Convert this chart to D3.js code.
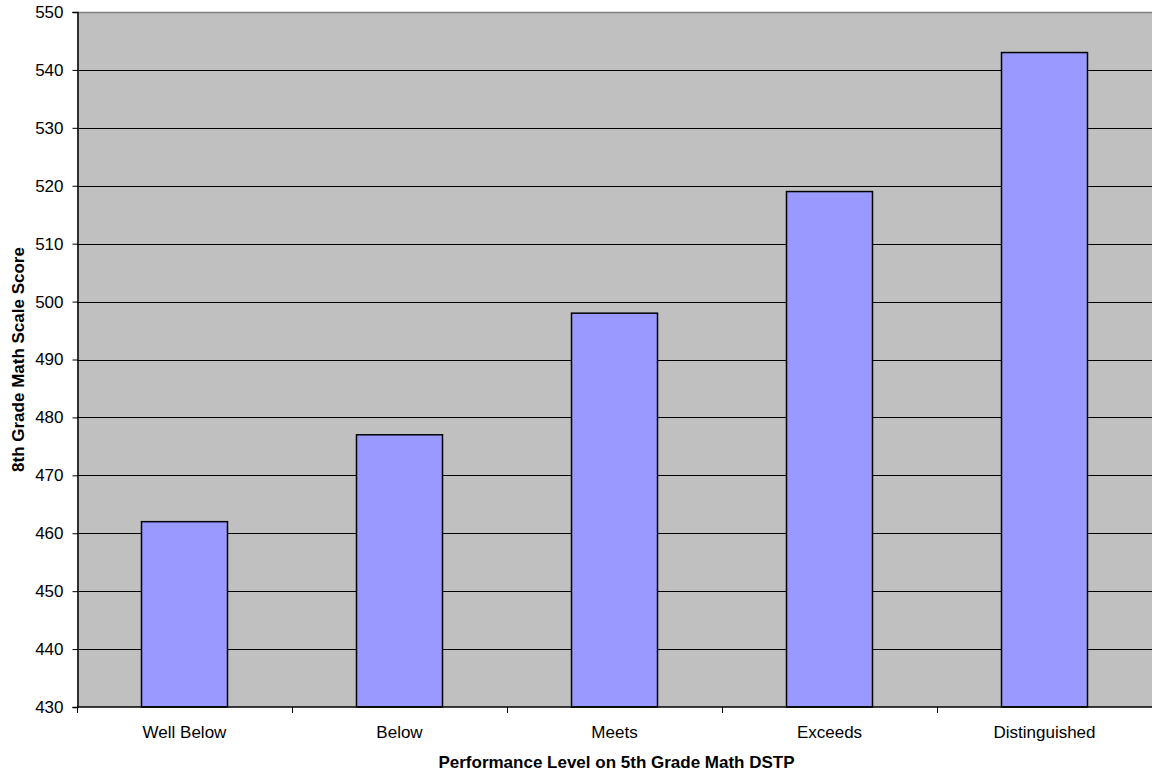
<!DOCTYPE html>
<html><head><meta charset="utf-8">
<script src="https://cdn.jsdelivr.net/npm/d3@7"></script>
<style>body{margin:0;background:#fff;} svg{display:block;}</style>
</head><body>
<svg id="chart" width="1152" height="774"></svg>
<script>
const categories = ["Well Below", "Below", "Meets", "Exceeds", "Distinguished"];
const scores = [462, 477, 498, 519, 543];
const yTicks = [430, 440, 450, 460, 470, 480, 490, 500, 510, 520, 530, 540, 550];
const xTitle = "Performance Level on 5th Grade Math DSTP";
const yTitle = "8th Grade Math Scale Score";

const svg = d3.select("#chart");
const m = {left: 77, right: 0, top: 12, bottom: 67};
const W = 1152, H = 774;
const x = d3.scaleBand().domain(categories).range([m.left, W - m.right]).paddingInner(0.6).paddingOuter(0.3);
const xOuter = d3.scaleBand().domain(categories).range([m.left, W - m.right]);
const y = d3.scaleLinear().domain([430, 550]).range([H - m.bottom, m.top]);
const font = "Liberation Sans, Arial, sans-serif";

svg.append("rect").attr("x", m.left).attr("y", m.top).attr("width", W - m.left - m.right).attr("height", y(430) - m.top).attr("fill", "#c0c0c0");

// gridlines
svg.append("g").selectAll("line").data(yTicks.filter(t => t > 430 && t < 550)).join("line")
  .attr("x1", m.left).attr("x2", W - m.right)
  .attr("y1", d => Math.round(y(d)) + 0.5).attr("y2", d => Math.round(y(d)) + 0.5)
  .attr("stroke", "#000").attr("stroke-width", 1);
// top border
svg.append("line").attr("x1", m.left).attr("x2", W).attr("y1", m.top + 0.5).attr("y2", m.top + 0.5).attr("stroke", "#808080").attr("stroke-width", 1.5);

// bars
svg.append("g").selectAll("rect").data(scores).join("rect")
  .attr("x", (d, i) => x(categories[i]))
  .attr("width", x.bandwidth())
  .attr("y", d => y(d))
  .attr("height", d => y(430) - y(d))
  .attr("fill", "#9999ff").attr("stroke", "#000").attr("stroke-width", 1.5);

// y axis
const yAxis = d3.axisLeft(y).tickValues(yTicks).tickSize(5).tickPadding(9);
const gy = svg.append("g").attr("transform", `translate(${m.left + 0.5},0)`).call(yAxis);
gy.select(".domain").attr("stroke", "#000").attr("stroke-width", 1.5);
gy.selectAll(".tick line").attr("stroke", "#000");
gy.selectAll("text").attr("font-family", font).attr("font-size", 17).attr("fill", "#000");

// x axis
const gx = svg.append("g").attr("transform", `translate(0,${y(430)})`);
gx.append("line").attr("x1", m.left).attr("x2", W).attr("stroke", "#000").attr("stroke-width", 1.5);
gx.selectAll(".xt").data(categories.slice(1)).join("line").attr("class", "xt")
  .attr("x1", d => xOuter(d) + 0.5).attr("x2", d => xOuter(d) + 0.5)
  .attr("y1", 0).attr("y2", 6).attr("stroke", "#000");
gx.append("line").attr("x1", m.left + 0.5).attr("x2", m.left + 0.5).attr("y1", 0).attr("y2", 6).attr("stroke", "#000");
gx.selectAll(".xl").data(categories).join("text").attr("class", "xl")
  .attr("x", d => xOuter(d) + xOuter.bandwidth() / 2).attr("y", 738 - y(430))
  .attr("text-anchor", "middle").attr("font-family", font).attr("font-size", 17).text(d => d);

svg.append("text").attr("x", (m.left + W) / 2 + 2).attr("y", 768).attr("text-anchor", "middle")
  .attr("font-family", font).attr("font-size", 17).attr("font-weight", "bold").text(xTitle);
svg.append("text").attr("transform", `translate(24,${(m.top + y(430)) / 2}) rotate(-90)`).attr("text-anchor", "middle")
  .attr("font-family", font).attr("font-size", 17).attr("font-weight", "bold").text(yTitle);
</script>
</body></html>
